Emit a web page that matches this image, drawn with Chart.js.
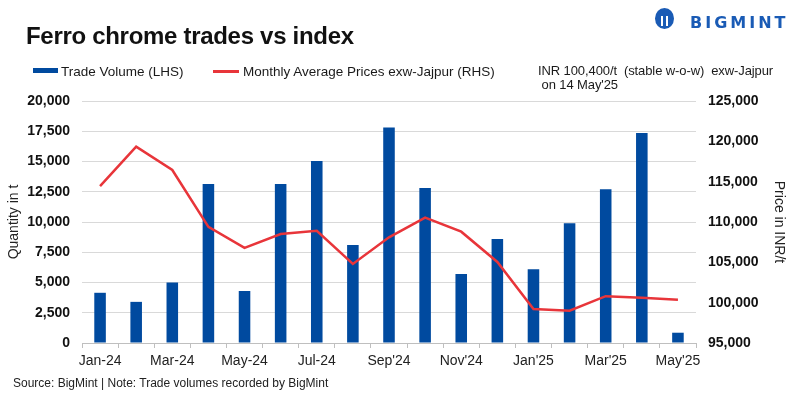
<!DOCTYPE html>
<html>
<head>
<meta charset="utf-8">
<script src="https://cdn.jsdelivr.net/npm/chart.js@4/dist/chart.umd.min.js"></script>
<style>
  html, body { margin: 0; padding: 0; background: #fff; }
  body { width: 799px; height: 398px; position: relative; overflow: hidden;
         font-family: "Liberation Sans", Arial, sans-serif; color: #111; }
  #wrap { position: absolute; left: 0; top: 0; width: 799px; height: 398px; }
  .abs { position: absolute; white-space: nowrap; }
  #title { left: 26px; top: 24px; font-size: 24px; line-height: 24px; font-weight: bold; letter-spacing: -0.3px; }
  .leg { top: 65px; font-size: 13.5px; line-height: 13.5px; color: #1a1a1a; }
  .swatch { position: absolute; }
  #note { left: 538px; top: 63.5px; font-size: 13px; line-height: 14px; color: #1a1a1a; letter-spacing: -0.1px; }
  #source { left: 13px; top: 376.5px; font-size: 12px; line-height: 12px; color: #222; }
  #logo { left: 690px; top: 14.5px; color: #1a5bb5; font-family: "DejaVu Sans", sans-serif;
          font-weight: bold; font-size: 16px; line-height: 16px; letter-spacing: 3px; }
  #icon { left: 655px; top: 8px; width: 19px; height: 21px; border-radius: 50%; background: #1a5bb5; }
  #icon i { position: absolute; top: 8px; width: 2px; height: 10px; background: #fff; }
</style>
</head>
<body>
<div id="wrap"><canvas id="chart" width="799" height="398"></canvas></div>
<div class="abs" id="title">Ferro chrome trades vs index</div>
<div class="abs" id="icon"><i style="left:6px"></i><i style="left:11px"></i></div>
<div class="abs" id="logo">BIGMINT</div>
<div class="swatch" style="left:33px; top:68px; width:25px; height:5px; background:#004a9f;"></div>
<div class="abs leg" style="left:61px;">Trade Volume (LHS)</div>
<div class="swatch" style="left:213px; top:70px; width:26px; height:2.5px; background:#e8353a;"></div>
<div class="abs leg" style="left:243px;">Monthly Average Prices exw-Jajpur (RHS)</div>
<div class="abs" id="note">INR 100,400/t&nbsp; (stable w-o-w)&nbsp; exw-Jajpur<br>&nbsp;on 14 May'25</div>
<div class="abs" id="source">Source: BigMint | Note: Trade volumes recorded by BigMint</div>
<script>
// Months (every other one is labelled on the axis)
const months = [
  "Jan-24", "Feb-24", "Mar-24", "Apr-24", "May-24", "Jun-24", "Jul-24", "Aug-24",
  "Sep'24", "Oct'24", "Nov'24", "Dec'24", "Jan'25", "Feb'25", "Mar'25", "Apr'25", "May'25"
];

// Trade volume in t (LHS)
const tradeVolume = [
  4150, 3400, 5000, 13150, 4300, 13150, 15050, 8100,
  17800, 12800, 5700, 8600, 6100, 9900, 12700, 17350, 850
];

// Monthly average price exw-Jajpur, INR/t (RHS)
const avgPrice = [
  114450, 119350, 116450, 109400, 106800, 108500, 108900, 104800,
  108100, 110550, 108800, 105050, 99200, 99000, 100800, 100600, 100350
];

const BLUE = "#004a9f";
const RED = "#e8353a";
const GRID = "#d9d9d9";
const FONT = "'Liberation Sans', Arial, sans-serif";

const fmt = v => Number(v).toLocaleString("en-US");

new Chart(document.getElementById("chart"), {
  type: "bar",
  data: {
    labels: months,
    datasets: [
      {
        type: "line",
        label: "Monthly Average Prices exw-Jajpur (RHS)",
        data: avgPrice,
        yAxisID: "y1",
        borderColor: RED,
        borderWidth: 2.5,
        pointRadius: 0,
        tension: 0,
        order: 0
      },
      {
        label: "Trade Volume (LHS)",
        data: tradeVolume,
        yAxisID: "y",
        backgroundColor: BLUE,
        categoryPercentage: 1,
        barPercentage: 0.32,
        order: 1
      }
    ]
  },
  options: {
    responsive: false,
    animation: false,
    layout: { padding: { top: 101, left: 0, right: 0, bottom: 0 } },
    plugins: { legend: { display: false }, tooltip: { enabled: false } },
    scales: {
      x: {
        offset: true,
        grid: { offset: true, drawOnChartArea: false, drawTicks: true, tickLength: 5, color: "#bfbfbf" },
        border: { display: true, color: "#bfbfbf" },
        ticks: {
          autoSkip: false, maxRotation: 0, padding: 5,
          color: "#222", font: { family: FONT, size: 14 },
          callback: (v, i) => (i % 2 === 0 ? months[i] : "")
        },
        afterFit: s => { s.height = 55; }
      },
      y: {
        position: "left",
        min: 0, max: 20000,
        grid: { color: GRID, drawTicks: false },
        border: { display: false },
        ticks: {
          stepSize: 2500, padding: 12, color: "#111",
          font: { family: FONT, size: 14, weight: "bold" },
          callback: v => fmt(v)
        },
        title: {
          display: true, text: "Quantity in t", color: "#222",
          font: { family: FONT, size: 14 }, padding: { top: 6, bottom: 0 }
        },
        afterFit: s => { s.width = 82; }
      },
      y1: {
        position: "right",
        min: 95000, max: 125000,
        grid: { drawOnChartArea: false, drawTicks: false },
        border: { display: false },
        ticks: {
          stepSize: 5000, padding: 12, color: "#111",
          font: { family: FONT, size: 14, weight: "bold" },
          callback: v => fmt(v)
        },
        title: {
          display: true, text: "Price in INR/t", color: "#222",
          font: { family: FONT, size: 14 }, padding: { top: 12, bottom: 0 }
        },
        afterFit: s => { s.width = 103; }
      }
    }
  }
});
</script>
</body>
</html>
